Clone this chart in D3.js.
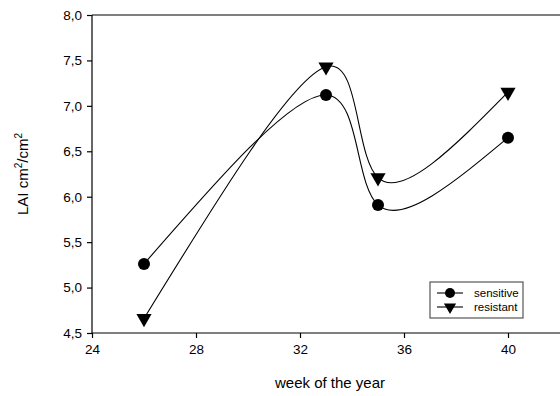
<!DOCTYPE html>
<html>
<head>
<meta charset="utf-8">
<script src="https://cdn.jsdelivr.net/npm/d3@7"></script>
<style>
  body { margin: 0; background: #fff; }
  svg { display: block; font-family: "Liberation Sans", Arial, sans-serif; }
</style>
</head>
<body>
<div id="chart"></div>
<script>
// dati
var weeks = [26, 33, 35, 40];
var sensitive = [5.26, 7.12, 5.91, 6.65];
var resistant = [4.66, 7.43, 6.21, 7.15];
var xTicks = [24, 28, 32, 36, 40];
var yTicks = [4.5, 5.0, 5.5, 6.0, 6.5, 7.0, 7.5, 8.0];
var seriesNames = ["sensitive", "resistant"];

var width = 560, height = 396;
var margin = { top: 15, right: 0, bottom: 63, left: 92 };

var svg = d3.select("#chart").append("svg")
  .attr("width", width)
  .attr("height", height);

var x = d3.scaleLinear().domain([24, 42]).range([margin.left, width - margin.right]);
var y = d3.scaleLinear().domain([4.5, 8.0]).range([height - margin.bottom, margin.top]);

var fmt = function (d) { return d3.format(".1f")(d).replace(".", ","); };

// asse x
var gx = svg.append("g")
  .attr("transform", "translate(0," + y(4.5) + ")")
  .call(d3.axisBottom(x).tickValues(xTicks).tickSize(5).tickPadding(6));
gx.select(".domain").attr("d", "M" + x(24) + ",0H" + x(42));

// asse y
var gy = svg.append("g")
  .attr("transform", "translate(" + x(24) + ",0)")
  .call(d3.axisLeft(y).tickValues(yTicks).tickFormat(fmt).tickSize(5).tickPadding(5));
gy.select(".domain").attr("d", "M0," + y(4.5) + "V" + y(8.0));

svg.selectAll(".tick text").attr("font-size", "13.5px").attr("fill", "#000");
svg.selectAll(".domain, .tick line").attr("stroke", "#000").attr("stroke-width", 1.2);

// linea sopra
svg.append("line")
  .attr("x1", x(24)).attr("x2", x(42))
  .attr("y1", y(8.0)).attr("y2", y(8.0))
  .attr("stroke", "#000").attr("stroke-width", 1.2);

// titoli assi
svg.append("text")
  .attr("x", (x(24) + x(42)) / 2 + 4)
  .attr("y", 388)
  .attr("text-anchor", "middle")
  .attr("font-size", "15px")
  .text("week of the year");

var yl = svg.append("text")
  .attr("transform", "translate(28," + (y(6.25)) + ") rotate(-90)")
  .attr("text-anchor", "middle")
  .attr("font-size", "15px");
yl.append("tspan").text("LAI cm");
yl.append("tspan").attr("font-size", "10px").attr("dy", "-6").text("2");
yl.append("tspan").attr("dy", "6").text("/cm");
yl.append("tspan").attr("font-size", "10px").attr("dy", "-6").text("2");

var line = d3.line()
  .x(function (d) { return x(d[0]); })
  .y(function (d) { return y(d[1]); })
  .curve(d3.curveNatural);

var data = [sensitive, resistant].map(function (vals) {
  return weeks.map(function (w, i) { return [w, vals[i]]; });
});

svg.selectAll("path.series")
  .data(data)
  .enter()
  .append("path")
  .attr("class", "series")
  .attr("d", line)
  .attr("fill", "none")
  .attr("stroke", "#000")
  .attr("stroke-width", 1.1);

var tri = d3.symbol().type(d3.symbolTriangle).size(100);

data.forEach(function (pts, k) {
  pts.forEach(function (p) {
    var g = svg.append("g").attr("transform", "translate(" + x(p[0]) + "," + y(p[1]) + ")");
    if (k === 0) {
      g.append("circle").attr("r", 6).attr("fill", "#000");
    } else {
      g.append("path").attr("d", tri).attr("transform", "rotate(180)").attr("fill", "#000");
    }
  });
});

// legenda
var leg = svg.append("g").attr("transform", "translate(430,282)");
leg.append("rect")
  .attr("width", 93).attr("height", 36)
  .attr("fill", "#fff").attr("stroke", "#555").attr("stroke-width", 1.2);
seriesNames.forEach(function (name, k) {
  var ry = 11 + k * 14;
  leg.append("line").attr("x1", 7).attr("x2", 33).attr("y1", ry).attr("y2", ry)
    .attr("stroke", "#000").attr("stroke-width", 1.1);
  var g = leg.append("g").attr("transform", "translate(20," + ry + ")");
  if (k === 0) {
    g.append("circle").attr("r", 5).attr("fill", "#000");
  } else {
    g.append("path").attr("d", d3.symbol().type(d3.symbolTriangle).size(65))
      .attr("transform", "rotate(180)").attr("fill", "#000");
  }
  leg.append("text").attr("x", 44).attr("y", ry + 4)
    .attr("font-size", "11.5px").text(name);
});
</script>
</body>
</html>
